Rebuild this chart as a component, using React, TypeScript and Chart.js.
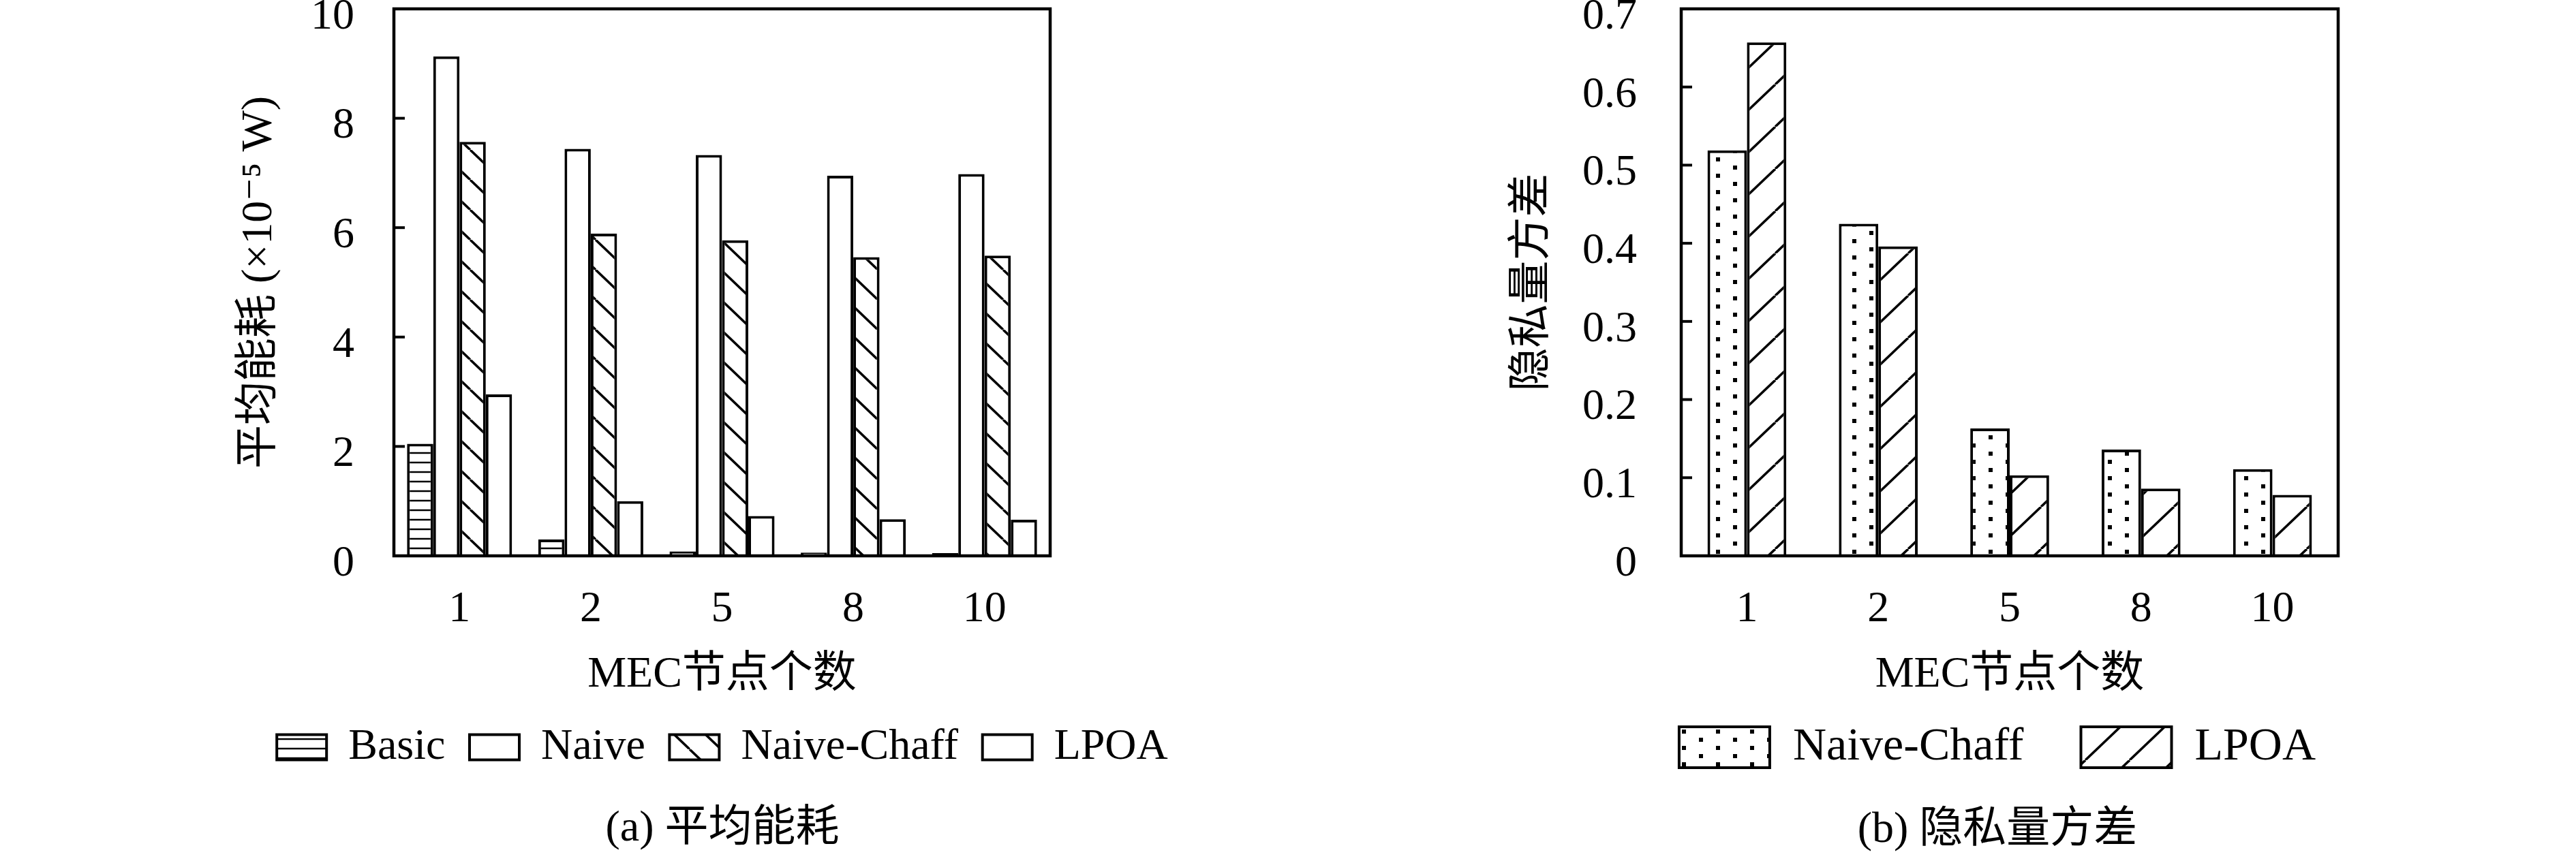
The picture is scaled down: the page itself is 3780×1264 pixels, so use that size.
import React, { useEffect, useRef } from 'react';
import { Chart, registerables } from 'chart.js';

Chart.register(...registerables);

// ---------- data ----------
const categories = ['1', '2', '5', '8', '10'];

// (a) average energy consumption, x10^-5 W
const basicPower = [2.05, 0.3, 0.08, 0.06, 0.05];
const naivePower = [9.13, 7.44, 7.33, 6.95, 6.98];
const naiveChaffPower = [7.57, 5.89, 5.77, 5.46, 5.49];
const lpoaPower = [2.95, 1.0, 0.73, 0.67, 0.66];
const leftYTicks = ['0', '2', '4', '6', '8', '10'];

// (b) privacy variance
const naiveChaffVariance = [0.519, 0.425, 0.163, 0.136, 0.111];
const lpoaVariance = [0.657, 0.396, 0.103, 0.086, 0.078];
const rightYTicks = ['0', '0.1', '0.2', '0.3', '0.4', '0.5', '0.6', '0.7'];

const xTitle = 'MEC节点个数';
const leftYTitle = '平均能耗 (×10⁻⁵ W)';
const rightYTitle = '隐私量方差';
const leftCaption = '(a) 平均能耗';
const rightCaption = '(b) 隐私量方差';

// ---------- style ----------
const FAMILY = '"Liberation Serif", "Noto Sans CJK SC", "DejaVu Serif", serif';
const FS = 64;
const font = { family: FAMILY, size: FS };

function makePattern(
  ctx: CanvasRenderingContext2D,
  w: number,
  h: number,
  draw: (g: CanvasRenderingContext2D) => void
) {
  const c = document.createElement('canvas');
  c.width = w;
  c.height = h;
  const g = c.getContext('2d')!;
  g.fillStyle = '#fff';
  g.fillRect(0, 0, w, h);
  g.strokeStyle = '#000';
  g.fillStyle = '#000';
  draw(g);
  return ctx.createPattern(c, 'repeat')!;
}

const framePlugin = {
  id: 'frameTicks',
  afterDatasetsDraw(chart: any) {
    const { ctx, chartArea: a, scales } = chart;
    ctx.save();
    ctx.strokeStyle = '#000';
    ctx.lineWidth = 4.5;
    ctx.strokeRect(a.left, a.top, a.right - a.left, a.bottom - a.top);
    const y = scales.y;
    ctx.lineWidth = 4;
    y.ticks.forEach((_t: any, i: number) => {
      const py = y.getPixelForTick(i);
      if (Math.abs(py - a.top) < 3 || Math.abs(py - a.bottom) < 3) return;
      ctx.beginPath();
      ctx.moveTo(a.left, py);
      ctx.lineTo(a.left + 16, py);
      ctx.stroke();
    });
    ctx.restore();
  },
};

interface PanelOpts {
  yMax: number;
  yStep: number;
  yTicks: string[];
  yTitle: string;
  caption: string;
  padLeft: number;
  yWidth: number;
  rightWidth: number;
  yTitlePad: number;
  yTickPad: number;
  xHeight: number;
  xTitlePadBottom: number;
  legendPad: number;
  legendFs: number;
  captionPadBottom: number;
  boxW: number;
  boxH: number;
  catPct: number;
}

function buildOptions(p: PanelOpts): any {
  return {
    responsive: false,
    animation: false,
    devicePixelRatio: 1,
    layout: { padding: { left: p.padLeft, right: 0, top: 13, bottom: 0 } },
    datasets: { bar: { categoryPercentage: p.catPct, barPercentage: 1.0 } },
    plugins: {
      tooltip: { enabled: false },
      legend: {
        display: true,
        position: 'bottom',
        labels: {
          font: { family: FAMILY, size: p.legendFs },
          color: '#000',
          boxWidth: p.boxW,
          boxHeight: p.boxH,
          padding: p.legendPad,
        },
      },
      title: {
        display: true,
        position: 'bottom',
        text: p.caption,
        font: { ...font, weight: 'normal' },
        color: '#000',
        padding: { top: 39.6, bottom: p.captionPadBottom },
      },
    },
    scales: {
      x: {
        type: 'category',
        grid: { display: false },
        border: { display: false },
        ticks: { font, color: '#000', padding: 33, maxRotation: 0, autoSkip: false },
        title: {
          display: true,
          text: xTitle,
          font,
          color: '#000',
          padding: { top: 0, bottom: p.xTitlePadBottom },
        },
        afterFit: (s: any) => {
          s.height = p.xHeight;
          s.paddingLeft = 0;
          s.paddingRight = 0;
        },
      },
      y: {
        type: 'linear',
        position: 'left',
        min: 0,
        max: p.yMax,
        grid: { display: false },
        border: { display: false },
        ticks: {
          stepSize: p.yStep,
          font,
          color: '#000',
          padding: p.yTickPad,
          labelOffset: 12,
          callback: (v: number) => {
            const t = p.yTicks.find((s) => Math.abs(Number(s) - v) < 1e-9);
            return t === undefined ? '' : t;
          },
        },
        title: {
          display: true,
          text: p.yTitle,
          font,
          color: '#000',
          padding: { top: p.yTitlePad, bottom: 0 },
        },
        afterFit: (s: any) => {
          s.width = p.yWidth;
          s.paddingTop = 0;
          s.paddingBottom = 0;
        },
      },
      yRight: {
        type: 'linear',
        position: 'right',
        display: true,
        grid: { display: false },
        border: { display: false },
        ticks: { display: false },
        afterFit: (s: any) => {
          s.width = p.rightWidth;
          s.paddingTop = 0;
          s.paddingBottom = 0;
        },
      },
    },
  };
}

export default function App() {
  const leftRef = useRef<HTMLCanvasElement>(null);
  const rightRef = useRef<HTMLCanvasElement>(null);

  useEffect(() => {
    document.body.style.margin = '0';
    const lc = leftRef.current!;
    const rc = rightRef.current!;
    const lctx = lc.getContext('2d')!;
    const rctx = rc.getContext('2d')!;

    const horiz = makePattern(lctx, 10, 14, (g) => {
      g.lineWidth = 2.5;
      g.beginPath();
      g.moveTo(0, 7);
      g.lineTo(10, 7);
      g.stroke();
    });
    const backDiag = makePattern(lctx, 46, 44, (g) => {
      g.lineWidth = 3.5;
      for (let k = -1; k <= 1; k++) {
        g.beginPath();
        g.moveTo(k * 46, 0);
        g.lineTo(k * 46 + 46, 44);
        g.stroke();
      }
    });
    const dots = makePattern(rctx, 50, 24, (g) => {
      g.fillRect(3, 3, 6, 6);
      g.fillRect(28, 15, 6, 6);
    });
    const fwdDiag = makePattern(rctx, 65, 62, (g) => {
      g.lineWidth = 3.5;
      for (let k = -1; k <= 1; k++) {
        g.beginPath();
        g.moveTo(k * 65, 62);
        g.lineTo(k * 65 + 65, 0);
        g.stroke();
      }
    });

    const border = { borderColor: '#000', borderWidth: 4 };

    const c1 = new Chart(lc, {
      type: 'bar',
      data: {
        labels: categories,
        datasets: [
          { label: 'Basic', data: basicPower, backgroundColor: horiz, ...border },
          { label: 'Naive', data: naivePower, backgroundColor: '#fff', ...border },
          { label: 'Naive-Chaff', data: naiveChaffPower, backgroundColor: backDiag, ...border },
          { label: 'LPOA', data: lpoaPower, backgroundColor: '#fff', ...border },
        ],
      },
      options: buildOptions({
        yMax: 10,
        yStep: 2,
        yTicks: leftYTicks,
        yTitle: leftYTitle,
        caption: leftCaption,
        padLeft: 230,
        yWidth: 348,
        rightWidth: 349,
        yTitlePad: 112.6,
        yTickPad: 50,
        xHeight: 213.4,
        xTitlePadBottom: 0,
        legendPad: 35.6,
        legendFs: 64,
        captionPadBottom: 8.6,
        boxW: 73,
        boxH: 37,
        catPct: 0.8,
      }),
      plugins: [framePlugin],
    } as any);

    const c2 = new Chart(rc, {
      type: 'bar',
      data: {
        labels: categories,
        datasets: [
          { label: 'Naive-Chaff', data: naiveChaffVariance, backgroundColor: dots, ...border },
          { label: 'LPOA', data: lpoaVariance, backgroundColor: fwdDiag, ...border },
        ],
      },
      options: buildOptions({
        yMax: 0.7,
        yStep: 0.1,
        yTicks: rightYTicks,
        yTitle: rightYTitle,
        caption: rightCaption,
        padLeft: 192,
        yWidth: 385,
        rightWidth: 349,
        yTitlePad: 128.6,
        yTickPad: 57,
        xHeight: 163,
        xTitlePadBottom: -50.4,
        legendPad: 84,
        legendFs: 68,
        captionPadBottom: 6.6,
        boxW: 133,
        boxH: 60,
        catPct: 0.6,
      }),
      plugins: [framePlugin],
    } as any);

    return () => {
      c1.destroy();
      c2.destroy();
    };
  }, []);

  return (
    <div style={{ position: 'absolute', left: 0, top: 0, width: 3780, height: 1264, background: '#fff' }}>
      <canvas
        ref={leftRef}
        width={1890}
        height={1264}
        style={{ position: 'absolute', left: 0, top: 0, width: 1890, height: 1264 }}
      />
      <canvas
        ref={rightRef}
        width={1890}
        height={1264}
        style={{ position: 'absolute', left: 1890, top: 0, width: 1890, height: 1264 }}
      />
    </div>
  );
}
